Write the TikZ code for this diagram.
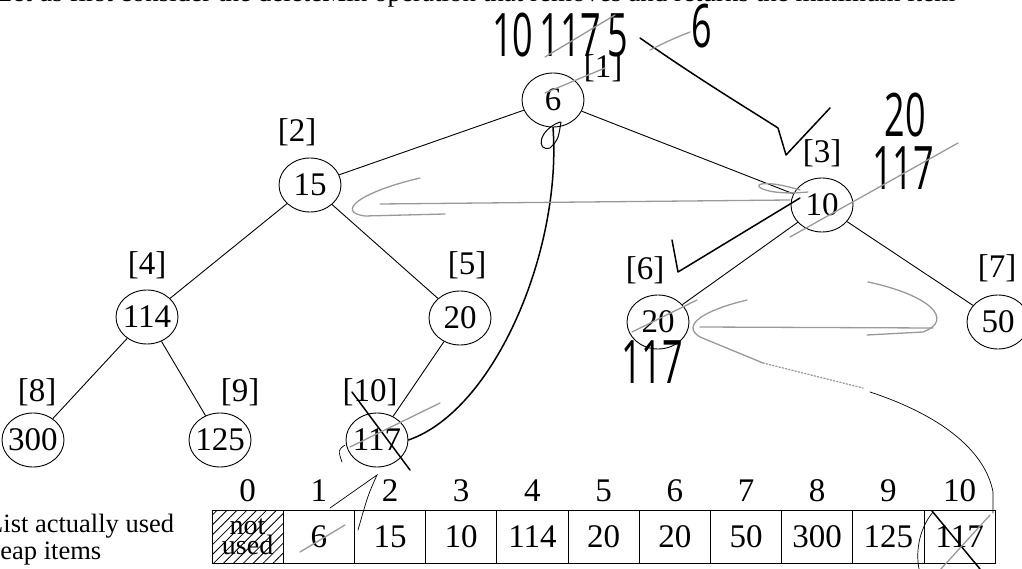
\documentclass[tikz,border=0pt]{standalone}
\usepackage{fontspec}
\setmainfont{Liberation Serif}
\newfontfamily\handfont{Open Sans}
\usetikzlibrary{shapes.geometric,patterns.meta}

\tikzset{
	heapnode/.style={draw, ellipse, line width=0.9pt, minimum width=62pt, minimum height=54pt, inner xsep=-6pt, inner ysep=0pt},
	heaplabel/.style={inner sep=0pt},
	edge/.style={line width=0.9pt},
	cell/.style={draw, line width=0.9pt, minimum width=71.2pt, minimum height=53pt, inner sep=0pt},
	pen/.style={line width=1.5pt, line cap=round, line join=round},
	thinpen/.style={line width=0.7pt, line cap=round},
	pencil/.style={line width=1.3pt, color=black!40, line cap=round},
	hand/.style={font=\handfont\fontsize{60}{60}\selectfont, inner sep=0pt, xscale=0.6, transform shape},
}

\begin{document}
\begin{tikzpicture}[x=1pt, y=-1pt, font=\fontsize{33}{30}\selectfont]
			%%%%% START %%%%%
			\useasboundingbox (0,0) rectangle (1022,569);
			\clip (0,0) rectangle (1022,569);
			
			% cut line of the page text above
			\node[anchor=base west, inner sep=0pt, font=\fontsize{27}{30}\selectfont] (pagetext) at (-4,2) {Let us first consider the deleteMin operation that removes and returns the minimum item};
			
			% the heap
			\node[heapnode] (n1) at (553,100) {6};
			\node[heapnode] (n2) at (310,185) {15};
			\node[heapnode] (n3) at (822,205) {10};
			\node[heapnode] (n4) at (147,317) {114};
			\node[heapnode] (n5) at (460,318) {20};
			\node[heapnode] (n6) at (658,322) {20};
			\node[heapnode] (n7) at (998,322) {50};
			\node[heapnode] (n8) at (33,440) {300};
			\node[heapnode] (n9) at (220,440) {125};
			\node[heapnode] (n10) at (377,440) {117};
			
			\node[heaplabel] (l1) at (603,68) {[1]};
			\node[heaplabel] (l2) at (297,132) {[2]};
			\node[heaplabel] (l3) at (822,153) {[3]};
			\node[heaplabel] (l4) at (147,265) {[4]};
			\node[heaplabel] (l5) at (467,265) {[5]};
			\node[heaplabel] (l6) at (645,270) {[6]};
			\node[heaplabel] (l7) at (997,268) {[7]};
			\node[heaplabel] (l8) at (37,392) {[8]};
			\node[heaplabel] (l9) at (240,392) {[9]};
			\node[heaplabel] (l10) at (370,392) {[10]};
			
			\draw[edge] (n1) -- (n2);
			\draw[edge] (n1) -- (n3);
			\draw[edge] (n2) -- (n4);
			\draw[edge] (n2) -- (n5);
			\draw[edge] (n3) -- (n6);
			\draw[edge] (n3) -- (n7);
			\draw[edge] (n4) -- (n8);
			\draw[edge] (n4) -- (n9);
			\draw[edge] (n5) -- (n10);
			
			% the list
			\node[anchor=west, align=left, inner sep=0pt, font=\fontsize{26.5}{27}\selectfont] (caption) at (-13,540) {List actually used\\heap items};
			
			\node[cell, pattern={Lines[angle=45, distance=7pt, line width=0.8pt]}] (c0) at (247.6,536.5) {};
			\node[align=center, inner sep=0pt, font=\fontsize{28}{20}\selectfont] (notused) at (c0) {not\\used};
			\node[cell] (c1) at (318.8,536.5) {6};
			\node[cell] (c2) at (390,536.5) {15};
			\node[cell] (c3) at (461.2,536.5) {10};
			\node[cell] (c4) at (532.4,536.5) {114};
			\node[cell] (c5) at (603.6,536.5) {20};
			\node[cell] (c6) at (674.8,536.5) {20};
			\node[cell] (c7) at (746,536.5) {50};
			\node[cell] (c8) at (817.2,536.5) {300};
			\node[cell] (c9) at (888.4,536.5) {125};
			\node[cell] (c10) at (959.6,536.5) {117};
			
			\node[heaplabel] (i0) at (247.6,491) {0};
			\node[heaplabel] (i1) at (318.8,491) {1};
			\node[heaplabel] (i2) at (390,491) {2};
			\node[heaplabel] (i3) at (461.2,491) {3};
			\node[heaplabel] (i4) at (532.4,491) {4};
			\node[heaplabel] (i5) at (603.6,491) {5};
			\node[heaplabel] (i6) at (674.8,491) {6};
			\node[heaplabel] (i7) at (746,491) {7};
			\node[heaplabel] (i8) at (817.2,491) {8};
			\node[heaplabel] (i9) at (888.4,491) {9};
			\node[heaplabel] (i10) at (959.6,491) {10};
			
			% pen notes
			\node[hand] (hw1) at (560,35) {10\,117\,5};
			\node[hand] (hw2) at (702,26) {6};
			\node[hand] (hw3) at (905,115) {20};
			\node[hand] (hw4) at (903,168) {117};
			\node[hand] (hw5) at (652,362) {117};
			
			\draw[pen] (n10.east) .. controls (495,410) and (562,250) .. (n1.south);
			\draw[pen, line width=1pt] (560,122) .. controls (538,130) and (536,152) .. (550,148) .. controls (558,140) .. (561,122);
			\draw[pen] (640,38) .. controls (700,80) and (750,110) .. (778,128) -- (786,155) -- (830,108);
			\draw[pen] (672,240) -- (678,272) -- (800,198);
			\draw[pen] (352,392) -- (410,470);
			\draw[pen] (932,511) -- (980,569);
			
			% pencil notes
			\draw[pencil] (545,57) -- (615,15);
			\draw[pencil] (545,93) -- (605,68);
			\draw[pencil] (650,50) .. controls (670,40) and (675,38) .. (690,32);
			\draw[pencil] (790,237) -- (958,143);
			\draw[pencil] (800,190) .. controls (740,172) and (748,198) .. (808,192);
			\draw[pencil] (790,200) -- (380,204);
			\draw[pencil] (420,178) .. controls (360,192) and (335,212) .. (365,216) -- (445,214);
			\draw[pencil] (632,332) -- (697,300);
			\draw[pencil] (747,300) .. controls (705,310) and (680,325) .. (700,337) -- (763,363);
			\draw[pencil] (700,327) -- (933,328);
			\draw[pencil] (868,282) .. controls (930,295) and (955,320) .. (923,332) -- (867,335);
			\draw[pencil, dotted] (763,363) -- (863,388);
			\draw[pencil] (350,447) -- (440,403);
			\draw[pencil] (940,570) -- (990,515);
			\draw[pencil] (300,552) -- (345,525);
			
			\draw[thinpen] (870,392) .. controls (940,415) and (985,450) .. (993,492) -- (993,513);
			\draw[thinpen] (933,512) .. controls (918,530) and (915,555) .. (920,573);
			\draw[thinpen] (330,508) -- (377,475) .. controls (368,495) .. (358,530);
			\draw[thinpen] (345,445) .. controls (338,450) .. (342,462);
			
			%%%%% END %%%%%
		\end{tikzpicture}
\end{document}
